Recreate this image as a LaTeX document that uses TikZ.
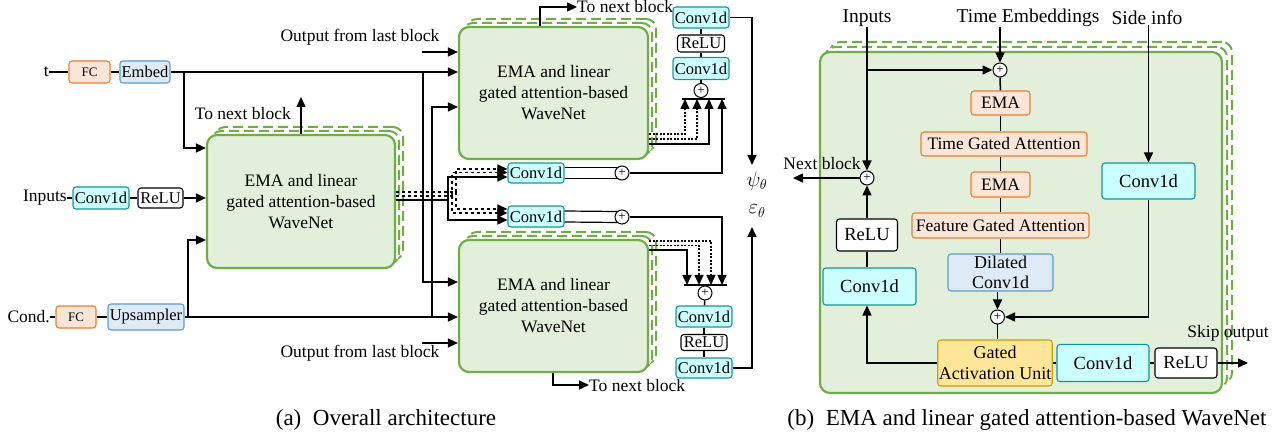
\documentclass[tikz,border=0pt]{standalone}
\usepackage{fontspec}
\setmainfont{Liberation Serif}
\usetikzlibrary{arrows.meta,shadows}
\definecolor{gborder}{RGB}{112,173,71}
\definecolor{gfill}{RGB}{226,239,218}
\definecolor{oborder}{RGB}{237,125,49}
\definecolor{ofill}{RGB}{251,229,214}
\definecolor{bborder}{RGB}{91,155,213}
\definecolor{bfill}{RGB}{222,235,247}
\definecolor{cborder}{RGB}{20,150,150}
\definecolor{cfill}{RGB}{204,255,255}
\definecolor{yborder}{RGB}{204,160,0}
\definecolor{yfill}{RGB}{255,230,153}
\tikzset{
 lbl/.style={font=\fontsize{17.5}{19}\selectfont, inner sep=0pt},
 biglbl/.style={font=\fontsize{19.5}{21}\selectfont, inner sep=0pt},
 bx/.style={draw, rounded corners=3pt, line width=1.1pt, inner sep=1pt, font=\fontsize{16.5}{18}\selectfont, align=center},
 wh/.style={bx, draw=black, fill=white},
 orng/.style={bx, draw=oborder, fill=ofill},
 blu/.style={bx, draw=bborder, fill=bfill},
 cyn/.style={bx, draw=cborder, fill=cfill},
 yel/.style={bx, draw=yborder, fill=yfill},
 bfont/.style={font=\fontsize{17.5}{20}\selectfont},
 sz/.style 2 args={minimum width=#1pt, minimum height=#2pt},
 blkbase/.style={draw=gborder, fill=gfill, line width=2.2pt, rounded corners=10pt, align=center, font=\fontsize{17.5}{21}\selectfont},
 blk/.style={blkbase,
   copy shadow={shadow xshift=8pt, shadow yshift=8pt, draw=gborder, fill=white, line width=2pt, dash pattern=on 10pt off 5pt},
   copy shadow={shadow xshift=4pt, shadow yshift=4pt, draw=gborder, fill=white, line width=2pt, dash pattern=on 10pt off 5pt}},
 blkR/.style={blkbase,
   copy shadow={shadow xshift=10pt, shadow yshift=10pt, draw=gborder, fill=white, line width=2pt, dash pattern=on 10pt off 5pt},
   copy shadow={shadow xshift=5pt, shadow yshift=5pt, draw=gborder, fill=white, line width=2pt, dash pattern=on 10pt off 5pt}},
 pls/.style={circle, draw, fill=white, line width=1pt, minimum size=14pt, inner sep=0pt, font=\fontsize{13}{13}\selectfont},
 ln/.style={line width=1.5pt},
 arr/.style={ln, -{Triangle[length=10pt,width=9pt]}},
 dotl/.style={dash pattern=on 2pt off 1.5pt},
 barnode/.style={minimum height=0pt, inner sep=0pt, outer sep=0pt},
}
\begin{document}
\begin{tikzpicture}[x=1pt,y=-1pt]
\useasboundingbox (0,0) rectangle (1287,443);

% ================= (a) =================
\node[lbl, anchor=east] (tl) at (49,72) {t};
\node[orng, sz={41}{22}, font=\fontsize{13}{15}\selectfont] (fca) at (89.5,72) {FC};
\node[blu, sz={50}{22}] (emb) at (145,72) {Embed};
\draw[ln] (tl) -- (fca);
\draw[ln] (fca) -- (emb);

\node[lbl, anchor=east] (inl) at (67,198) {Inputs};
\node[cyn, sz={56}{22}] (cvi) at (101,198) {Conv1d};
\node[wh, sz={45}{20}] (rli) at (160.5,198) {ReLU};

\node[lbl, anchor=east] (cdl) at (50,317) {Cond.};
\node[orng, sz={40}{22}, font=\fontsize{13}{15}\selectfont] (fcb) at (76,317) {FC};
\node[blu, sz={76}{26}] (ups) at (146,317) {Upsampler};

\node[blk, sz={188}{133}] (bL) at (301,201.5) {EMA and linear\\gated attention-based\\WaveNet};
\node[blk, sz={189}{132}] (bT) at (553.5,93) {EMA and linear\\gated attention-based\\WaveNet};
\node[blk, sz={189}{132}] (bB) at (553.5,306) {EMA and linear\\gated attention-based\\WaveNet};

% t embedding
\draw[arr] (emb.east) -- (emb.east -| bT.west);
\coordinate (e1) at (184,72); \coordinate (e1b) at (184,148);
\draw[arr] (e1) -- (e1b) -- (e1b -| bL.west);
\coordinate (e2) at (423,72); \coordinate (e2b) at (423,282);
\draw[arr] (e2) -- (e2b) -- (e2b -| bB.west);
% inputs
\draw[ln] (inl) -- (cvi);
\draw[ln] (cvi) -- (rli);
\draw[arr] (rli) -- (rli -| bL.west);
% cond
\draw[ln] (cdl) -- (fcb);
\draw[ln] (fcb) -- (ups);
\draw[arr] (ups.east) -- (ups.east -| bB.west);
\coordinate (c1) at (188,317); \coordinate (c1b) at (188,240);
\draw[arr] (c1) -- (c1b) -- (c1b -| bL.west);
\coordinate (c2) at (432,317); \coordinate (c2b) at (432,107);
\draw[arr] (c2) -- (c2b) -- (c2b -| bT.west);
% outputs from last block
\node[lbl] (olt) at (360,37) {Output from last block};
\coordinate (o1) at (422,52); \draw[arr] (o1) -- (o1 -| bT.west);
\node[lbl] (olb) at (360,353) {Output from last block};
\coordinate (o2) at (422,343); \draw[arr] (o2) -- (o2 -| bB.west);
% to next block
\coordinate (nL) at (301,97);
\draw[arr] (bL.north) -- (nL);
\node[lbl, anchor=east] (ntl) at (291,114) {To next block};
\coordinate (nT1) at (540,7); \coordinate (nT2) at (577,7);
\draw[arr] (bT.north -| nT1) -- (nT1) -- (nT2);
\node[lbl, anchor=west] (ntt) at (577,7) {To next block};
\coordinate (nB1) at (553,385); \coordinate (nB2) at (589,385);
\draw[arr] (bB.south -| nB1) -- (nB1) -- (nB2);
\node[lbl, anchor=west] (ntb) at (589,386) {To next block};

% middle conv1d
\node[cyn, sz={56}{20}] (cvU) at (536,173) {Conv1d};
\node[cyn, sz={56}{21}] (cvL) at (536,216.5) {Conv1d};
\node[pls] (pU) at (622,173) {+};
\node[pls] (pL) at (622,217) {+};

\coordinate (m0) at (448,200); \coordinate (m0u) at (448,177); \coordinate (m0d) at (448,220);
\draw[ln] (m0 -| bL.east) -- (m0);
\draw[arr] (m0) -- (m0u) -- (m0u -| cvU.west);
\draw[arr] (m0) -- (m0d) -- (m0d -| cvL.west);
\coordinate (m1) at (452,196); \coordinate (m1u) at (452,172.5); \coordinate (m1d) at (452,213);
\draw[ln, dashed] (m1 -| bL.east) -- (m1);
\draw[arr, dashed] (m1) -- (m1u) -- (m1u -| cvU.west);
\draw[arr, dashed] (m1) -- (m1d) -- (m1d -| cvL.west);
\coordinate (m2) at (456,192); \coordinate (m2u) at (456,169); \coordinate (m2d) at (456,209);
\draw[ln, dashed] (m2 -| bL.east) -- (m2);
\draw[arr, dashed] (m2) -- (m2u) -- (m2u -| cvU.west);
\draw[arr, dashed] (m2) -- (m2d) -- (m2d -| cvL.west);

\draw[ln, line width=1.2pt] ([yshift=5.5pt]cvU.east) -- ([yshift=5.5pt,xshift=3pt]pU.west);
\draw[ln, line width=1.2pt] ([yshift=-5.5pt]cvU.east) -- ([yshift=-5.5pt,xshift=3pt]pU.west);
\draw[ln, line width=1.2pt] ([yshift=5.5pt]cvL.east) -- ([yshift=5.5pt,xshift=3pt]pL.west);
\draw[ln, line width=1.2pt] ([yshift=-5.5pt]cvL.east) -- ([yshift=-5.5pt,xshift=3pt]pL.west);

% top output column
\node[cyn, sz={56}{21}] (cT1) at (701,17.5) {Conv1d};
\node[wh, sz={47}{17}] (rT) at (701,43.5) {ReLU};
\node[cyn, sz={56}{22}] (cT2) at (701,68.5) {Conv1d};
\node[pls] (pT) at (701,90.5) {+};
\node[barnode, minimum width=43pt] (brT) at (703.5,99) {};
\draw[ln] (brT.west) -- (brT.east);
\draw[ln] (cT1) -- (rT);
\draw[ln] (rT) -- (cT2);
\draw[ln] (cT2) -- (pT);
\coordinate (t1) at (709,144); \draw[arr] (t1 -| bT.east) -- (t1) -- (t1 |- brT);
\coordinate (t2) at (697,139); \draw[arr, dotl] (t2 -| bT.east) -- (t2) -- (t2 |- brT);
\coordinate (t3) at (685,134); \draw[arr, dotl] (t3 -| bT.east) -- (t3) -- (t3 |- brT);
\coordinate (t4) at (722,173); \draw[arr] (pU.east) -- (t4) -- (t4 |- brT);

% bottom output column
\node[barnode, minimum width=43pt] (brB) at (705.5,285) {};
\draw[ln] (brB.west) -- (brB.east);
\node[pls] (pB) at (705,293) {+};
\node[cyn, sz={56}{21}] (cB1) at (704,316.5) {Conv1d};
\node[wh, sz={46}{16}] (rB) at (704,342.5) {ReLU};
\node[cyn, sz={56}{20}] (cB2) at (704,368) {Conv1d};
\draw[ln] (pB) -- (cB1);
\draw[ln] (cB1) -- (rB);
\draw[ln] (rB) -- (cB2);
\coordinate (b1) at (687,250); \draw[arr] (b1 -| bB.east) -- (b1) -- (b1 |- brB);
\coordinate (b2) at (699,245.5); \draw[arr, dotl] (b2 -| bB.east) -- (b2) -- (b2 |- brB);
\coordinate (b3) at (711,241); \draw[arr, dotl] (b3 -| bB.east) -- (b3) -- (b3 |- brB);
\coordinate (b4) at (722,217); \draw[arr] (pL.east) -- (b4) -- (b4 |- brB);

% outputs psi / eps
\coordinate (ps) at (752,17.5); \coordinate (pe) at (752,165);
\draw[arr] (cT1.east) -- (ps) -- (pe);
\node[font=\fontsize{20.74}{22}\selectfont, inner sep=0pt] (psi) at (757,181) {$\psi_\theta$};
\coordinate (es) at (752,368); \coordinate (ee) at (752,227);
\draw[arr] (cB2.east) -- (es) -- (ee);
\node[font=\fontsize{20.74}{22}\selectfont, inner sep=0pt] (eps) at (757,211) {$\varepsilon_\theta$};

% ================= (b) =================
\node[blkR, sz={402}{341}] (bR) at (1021,222.5) {};
\node[biglbl] (ri) at (867,18) {Inputs};
\node[biglbl] (rte) at (1028,18) {Time Embeddings};
\node[biglbl] (rsi) at (1147,18) {Side info};
\node[pls] (pA) at (1000,70) {+};
\node[orng, bfont, sz={59}{24}] (ema1) at (1000.5,103) {EMA};
\node[orng, bfont, sz={166}{24}] (tga) at (1004,144) {Time Gated Attention};
\node[orng, bfont, sz={59}{25}] (ema2) at (1000.5,184.5) {EMA};
\node[orng, bfont, sz={177}{25}] (fga) at (1000.5,225.5) {Feature Gated Attention};
\node[blu, sz={105}{37}, font=\fontsize{18}{20}\selectfont] (dil) at (1000.5,272.5) {Dilated\\Conv1d};
\node[pls] (pC) at (997.5,317) {+};
\node[yel, sz={114}{46}, font=\fontsize{18}{21}\selectfont] (gau) at (995,363) {Gated\\Activation Unit};
\node[cyn, font=\fontsize{18.5}{20}\selectfont, sz={93}{36}] (cS) at (1148.5,181) {Conv1d};
\node[cyn, font=\fontsize{18.5}{20}\selectfont, sz={92}{37}] (cG) at (1103,363) {Conv1d};
\node[wh, font=\fontsize{18.5}{20}\selectfont, sz={62}{30}] (rS) at (1186,363) {ReLU};
\node[cyn, font=\fontsize{18.5}{20}\selectfont, sz={93}{37}] (cLf) at (869.5,286.5) {Conv1d};
\node[wh, font=\fontsize{18.5}{20}\selectfont, sz={61}{32}] (rLf) at (867,235) {ReLU};
\node[pls] (pN) at (867,178) {+};
\node[lbl] (nbl) at (822,164) {Next block};
\node[lbl] (skl) at (1228,333) {Skip output};

\coordinate (ri1) at (867,70);
\draw[arr] (ri.south) -- (pN.north);
\draw[arr] (ri1) -- (pA.west);
\draw[arr] (pA |- rte.south) -- (pA.north);
\draw[ln] (pA) -- (ema1);
\draw[ln] (ema1.south) -- (ema1.south |- tga.north);
\draw[ln] (ema2.north |- tga.south) -- (ema2.north);
\draw[ln] (ema2) -- (fga);
\draw[ln] (fga) -- (dil);
\draw[arr] (dil.south -| pC) -- (pC.north);
\draw[arr] (cS.north |- rsi.south) -- (cS.north);
\coordinate (sc) at (1148.5,317);
\draw[arr] (cS.south) -- (sc) -- (pC.east);
\draw[ln] (pC) -- (pC |- gau.north);
\draw[ln] (gau) -- (cG);
\draw[ln] (cG) -- (rS);
\coordinate (so) at (1248,363);
\draw[arr] (rS) -- (so);
\coordinate (gl) at (867,363);
\draw[arr] (gau.west) -- (gl) -- (gl |- cLf.south);
\draw[ln] (cLf.north -| rLf) -- (rLf.south);
\draw[arr] (rLf.north) -- (pN.south);
\coordinate (nb) at (793,178);
\draw[arr] (pN.west) -- (nb);

% captions
\node[font=\fontsize{23}{25}\selectfont, inner sep=0pt] (capa) at (386,420) {(a)\hspace{0.5em}Overall architecture};
\node[font=\fontsize{23}{25}\selectfont, inner sep=0pt] (capb) at (1027,420) {(b)\hspace{0.5em}EMA and linear gated attention-based WaveNet};
\end{tikzpicture}
\end{document}
